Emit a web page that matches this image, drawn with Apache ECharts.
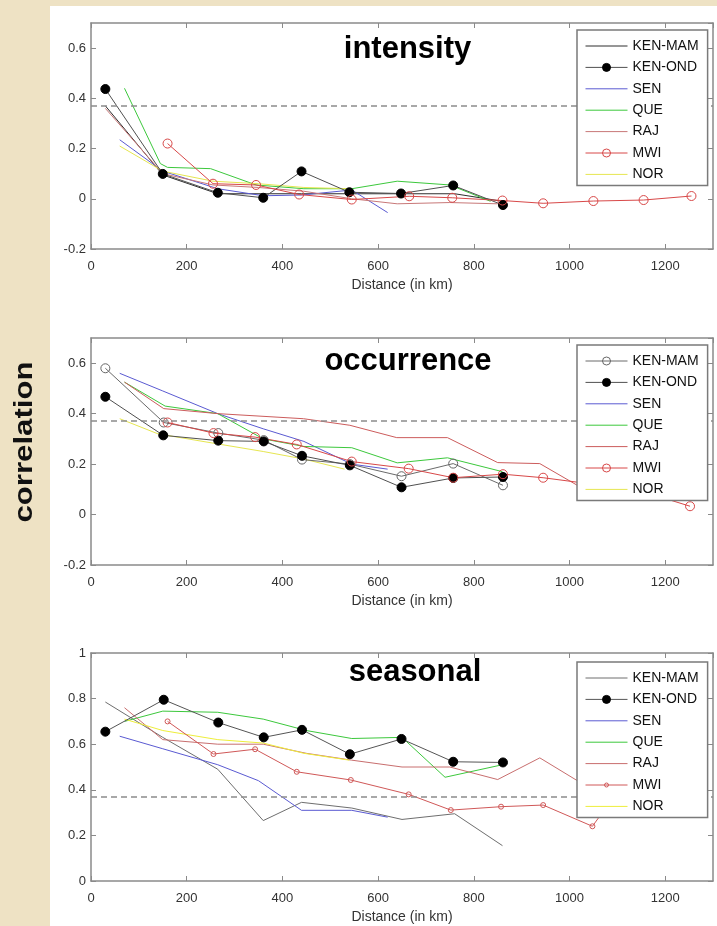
<!DOCTYPE html>
<html>
<head>
<meta charset="utf-8">
<script src="https://cdn.jsdelivr.net/npm/echarts@6/dist/echarts.min.js"></script>
<style>
  html, body { margin: 0; padding: 0; background: #eee2c4; }
  #chart { width: 717px; height: 926px; }
</style>
</head>
<body>
<div id="chart"></div>
<script>
// Spatial correlation of rainfall vs. station distance, three panels.
const stations = ['KEN-MAM', 'KEN-OND', 'SEN', 'QUE', 'RAJ', 'MWI', 'NOR'];
const panelTitles = ['intensity', 'occurrence', 'seasonal'];
const xAxisName = 'Distance (in km)';
const yAxisName = 'correlation';
const threshold = 0.37;

// ---- intensity: [distance km, correlation]
const intensityKENMAM = [[30, 0.37], [150, 0.095], [265, 0.02], [360, 0.02], [440, 0.02], [540, 0.02], [650, 0.02], [760, 0.02], [860, -0.01]];
const intensityKENOND = [[30, 0.437], [150, 0.099], [265, 0.024], [360, 0.004], [440, 0.109], [540, 0.026], [648, 0.021], [757, 0.053], [861, -0.025]];
const intensitySEN = [[60, 0.235], [150, 0.11], [265, 0.04], [360, 0.012], [440, 0.015], [545, 0.035], [620, -0.055]];
const intensityQUE = [[70, 0.44], [145, 0.14], [160, 0.125], [250, 0.12], [345, 0.055], [445, 0.04], [545, 0.04], [640, 0.07], [750, 0.055], [835, -0.01]];
const intensityRAJ = [[30, 0.36], [150, 0.10], [255, 0.055], [350, 0.045], [445, 0.03], [545, 0.0], [640, -0.02], [750, -0.015], [850, -0.02]];
const intensityMWI = [[160, 0.22], [255, 0.06], [345, 0.055], [435, 0.017], [545, -0.003], [665, 0.01], [755, 0.004], [860, -0.007], [945, -0.018], [1050, -0.009], [1155, -0.005], [1255, 0.011]];
const intensityNOR = [[60, 0.21], [150, 0.11], [255, 0.07], [350, 0.06], [445, 0.045], [540, 0.04]];

// ---- occurrence
const occurrenceKENMAM = [[30, 0.58], [152, 0.365], [266, 0.323], [361, 0.295], [441, 0.218], [541, 0.2], [649, 0.152], [757, 0.202], [861, 0.116]];
const occurrenceKENOND = [[30, 0.467], [151, 0.314], [266, 0.293], [361, 0.29], [441, 0.233], [541, 0.195], [649, 0.108], [757, 0.145], [861, 0.149]];
const occurrenceSEN = [[60, 0.56], [150, 0.49], [265, 0.40], [360, 0.34], [445, 0.29], [545, 0.20], [620, 0.18]];
const occurrenceQUE = [[70, 0.525], [155, 0.43], [265, 0.40], [360, 0.30], [445, 0.27], [545, 0.265], [640, 0.205], [745, 0.225], [860, 0.17]];
const occurrenceRAJ = [[70, 0.525], [152, 0.42], [266, 0.40], [444, 0.38], [541, 0.354], [639, 0.305], [745, 0.305], [850, 0.206], [938, 0.202], [1040, 0.09]];
const occurrenceMWI = [[160, 0.365], [256, 0.323], [343, 0.307], [430, 0.278], [545, 0.21], [664, 0.182], [757, 0.146], [861, 0.16], [945, 0.146], [1050, 0.12], [1155, 0.09], [1252, 0.033]];
const occurrenceNOR = [[60, 0.38], [140, 0.32], [265, 0.28], [360, 0.25], [445, 0.22], [530, 0.18]];

// ---- seasonal
const seasonalKENMAM = [[30, 0.785], [150, 0.63], [265, 0.49], [360, 0.265], [440, 0.345], [545, 0.32], [650, 0.27], [760, 0.295], [860, 0.155]];
const seasonalKENOND = [[30, 0.655], [152, 0.795], [266, 0.695], [361, 0.63], [441, 0.663], [541, 0.556], [649, 0.623], [757, 0.523], [861, 0.52]];
const seasonalSEN = [[60, 0.635], [150, 0.58], [265, 0.51], [350, 0.44], [440, 0.31], [545, 0.31], [620, 0.28]];
const seasonalQUE = [[70, 0.70], [150, 0.745], [265, 0.74], [360, 0.71], [450, 0.66], [545, 0.625], [650, 0.63], [740, 0.455], [860, 0.51]];
const seasonalRAJ = [[70, 0.76], [150, 0.62], [265, 0.60], [360, 0.60], [450, 0.56], [545, 0.53], [650, 0.50], [750, 0.50], [850, 0.445], [938, 0.54], [1040, 0.41]];
const seasonalMWI = [[160, 0.70], [256, 0.557], [343, 0.578], [430, 0.479], [543, 0.443], [664, 0.38], [752, 0.311], [857, 0.326], [945, 0.333], [1048, 0.24], [1155, 0.55], [1255, 0.6]];
const seasonalNOR = [[70, 0.71], [150, 0.66], [265, 0.62], [360, 0.605], [445, 0.56], [540, 0.53]];

const panelData = [
  [intensityKENMAM, intensityKENOND, intensitySEN, intensityQUE, intensityRAJ, intensityMWI, intensityNOR],
  [occurrenceKENMAM, occurrenceKENOND, occurrenceSEN, occurrenceQUE, occurrenceRAJ, occurrenceMWI, occurrenceNOR],
  [seasonalKENMAM, seasonalKENOND, seasonalSEN, seasonalQUE, seasonalRAJ, seasonalMWI, seasonalNOR]
];

const xMin = 0, xMax = 1300, xStep = 200;
const yRanges = [[-0.2, 0.7], [-0.2, 0.7], [0, 1]];
const yStep = 0.2;

// ---- layout & styling
const FONT = '"Liberation Sans", Arial, Helvetica, sans-serif';
const gridTops = [23, 338, 653];
const gridHeights = [226, 227, 228];
const legendTops = [30, 345, 662];
const titlePos = [[407.5, 49.5], [408, 361.5], [415, 672.5]];
const frameColor = '#8a8a8a';

const lineColor = {
  'KEN-MAM': ['#2e2e2e', '#6a6a6a', '#6e6e6e'],
  'KEN-OND': ['#505050', '#505050', '#555555'],
  'SEN': ['#5a5ad2', '#5a5ad2', '#5a5ad2'],
  'QUE': ['#3cc83c', '#3cc83c', '#3cc83c'],
  'RAJ': ['#c87878', '#cc5c5c', '#c86e6e'],
  'MWI': ['#d84848', '#d84848', '#d05858'],
  'NOR': ['#e6e650', '#e6e650', '#eeee3a']
};
// marker: null = plain line
function markerFor(panel, name) {
  if (name === 'KEN-OND') return { fill: '#000000', stroke: '#000000', size: 9 };
  if (name === 'MWI') return { fill: 'rgba(255,255,255,0)', stroke: lineColor.MWI[panel], size: panel === 2 ? 5 : 9 };
  if (name === 'KEN-MAM' && panel === 1) return { fill: 'rgba(255,255,255,0)', stroke: '#666666', size: 9 };
  return null;
}
// legend glyph: line with a small open ring at its centre
const smallRingIcon = 'path://M0,0M42,10M0,5L42,5M23,5A2,2,0,1,1,19,5A2,2,0,1,1,23,5';

const grid = [], xAxis = [], yAxis = [], series = [], legend = [];

panelTitles.forEach((title, p) => {
  grid.push({ left: 91, right: 4, top: gridTops[p], height: gridHeights[p] });
  const lineCommon = { show: true, onZero: false, lineStyle: { color: frameColor, width: 1.5 } };
  const tickCommon = { show: true, inside: true, length: 5, lineStyle: { color: frameColor, width: 1 } };
  const labelStyle = { color: '#333', fontSize: 13, fontFamily: FONT };
  xAxis.push({
    type: 'value', gridIndex: p, position: 'bottom', min: xMin, max: xMax, interval: xStep,
    axisLine: lineCommon, axisTick: tickCommon, splitLine: { show: false },
    axisLabel: Object.assign({ margin: 11, showMaxLabel: false, showMinLabel: true, formatter: (v) => String(v) }, labelStyle),
    name: xAxisName, nameLocation: 'middle', nameGap: 29,
    nameTextStyle: { color: '#333', fontSize: 14, fontFamily: FONT }
  });
  xAxis.push({
    type: 'value', gridIndex: p, position: 'top', min: xMin, max: xMax, interval: xStep,
    axisLine: lineCommon, axisTick: tickCommon, splitLine: { show: false }, axisLabel: { show: false }
  });
  const [yMin, yMax] = yRanges[p];
  yAxis.push({
    type: 'value', gridIndex: p, position: 'left', min: yMin, max: yMax, interval: yStep,
    axisLine: lineCommon, axisTick: tickCommon, splitLine: { show: false },
    axisLabel: Object.assign({ margin: 5, showMaxLabel: yMax === 1, showMinLabel: true }, labelStyle)
  });
  yAxis.push({
    type: 'value', gridIndex: p, position: 'right', min: yMin, max: yMax, interval: yStep,
    axisLine: lineCommon, axisTick: tickCommon, splitLine: { show: false }, axisLabel: { show: false }
  });

  const legendItems = [];
  stations.forEach((name, s) => {
    const mk = markerFor(p, name);
    const color = lineColor[name][p];
    const id = title + '|' + name;
    const ser = {
      type: 'line', name: id, xAxisIndex: p * 2, yAxisIndex: p * 2,
      data: panelData[p][s],
      symbol: mk ? 'circle' : 'none',
      symbolSize: mk ? mk.size : 0,
      lineStyle: { color: color, width: 1 },
      itemStyle: mk ? { color: mk.fill, borderColor: mk.stroke, borderWidth: 1 } : { color: color },
      z: mk ? 4 : 3,
      silent: true,
      animation: false
    };
    if (s === 0) {
      ser.markLine = {
        silent: true, symbol: 'none', animation: false,
        label: { show: false },
        lineStyle: { color: '#8c8c8c', type: [6, 4], width: 1.5 },
        data: [{ yAxis: threshold }]
      };
    }
    series.push(ser);
    if (!mk) {
      legendItems.push({ name: id, itemStyle: { opacity: 0 } });
    } else if (mk.size < 7) {
      legendItems.push({ name: id, icon: smallRingIcon, itemStyle: { color: 'rgba(0,0,0,0)', borderColor: mk.stroke, borderWidth: 1 } });
    } else {
      legendItems.push({ name: id });
    }
  });

  legend.push({
    data: legendItems,
    z: 20,
    orient: 'vertical', left: 577, top: legendTops[p],
    itemWidth: 42, itemHeight: 10, itemGap: 7.4,
    padding: [9, 9, 4, 8],
    backgroundColor: '#ffffff', borderColor: '#7a7a7a', borderWidth: 1.5, borderRadius: 0,
    selectedMode: false,
    lineStyle: { width: 1 },
    itemStyle: { borderWidth: 1 },
    textStyle: { color: '#111', fontSize: 14, fontFamily: FONT },
    formatter: (n) => n.split('|')[1]
  });
});

const graphic = [
  { type: 'rect', z: -10, shape: { x: 50, y: 6, width: 667, height: 920 }, style: { fill: '#ffffff' }, silent: true },
  {
    type: 'text', x: 24.5, y: 442, rotation: Math.PI / 2, scaleX: 1.2, z: 10,
    style: { text: yAxisName, font: 'bold 26px ' + FONT, fill: '#111', textAlign: 'center', textVerticalAlign: 'middle', align: 'center', verticalAlign: 'middle' }
  }
];
panelTitles.forEach((t, p) => {
  graphic.push({
    type: 'text', x: titlePos[p][0], y: titlePos[p][1], z: 10,
    style: { text: t, font: 'bold 31px ' + FONT, fill: '#000', textAlign: 'center', textVerticalAlign: 'middle', align: 'center', verticalAlign: 'middle' }
  });
});

const chart = echarts.init(document.getElementById('chart'), null, { renderer: 'canvas' });
chart.setOption({
  backgroundColor: '#eee2c4',
  animation: false,
  grid, xAxis, yAxis, series, legend, graphic
});
</script>
</body>
</html>
